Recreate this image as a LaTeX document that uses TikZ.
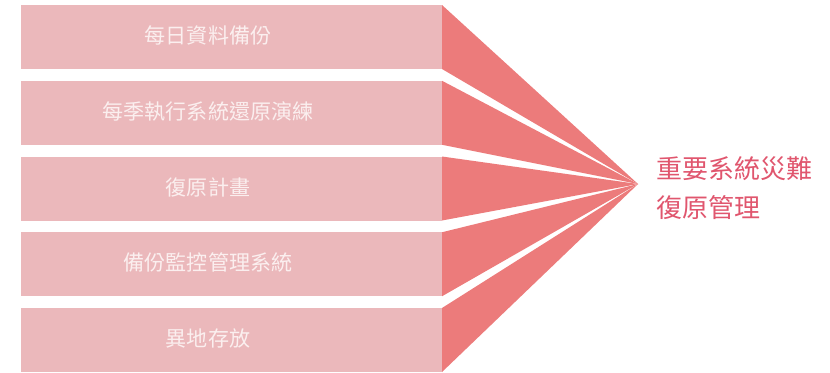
\documentclass[tikz,border=0pt]{standalone}
\usepackage{fontspec}
\newfontfamily\cjk{Noto Sans CJK TC}
\definecolor{boxpink}{HTML}{EBB8BB}
\definecolor{funnel}{HTML}{EC7B7B}
\definecolor{titlered}{HTML}{E0566E}
\definecolor{boxtext}{HTML}{FBEFEF}
\begin{document}
\begin{tikzpicture}[x=0.75pt,y=-0.75pt,
  stage/.style={fill=boxpink, draw=none, rectangle, anchor=north west,
    minimum width=421*0.75pt, minimum height=64*0.75pt, inner sep=0pt, outer sep=0pt},
  stagetext/.style={text=boxtext, font=\cjk\fontsize{15.8pt}{18pt}\selectfont, anchor=center, inner sep=0pt},
  wedge/.style={fill=funnel, draw=none},
  title/.style={text=titlered, font=\cjk\fontsize{19.5pt}{29pt}\selectfont, align=left, anchor=west, inner sep=0pt}]
\useasboundingbox (0,0) rectangle (830,372);
\coordinate (P) at (638,184);
\foreach \i/\t in {1/每日資料備份,2/每季執行系統還原演練,3/復原計畫,4/備份監控管理系統,5/異地存放}{
  \node[stage] (b\i) at (21,{5+75.75*(\i-1)}) {};
  \fill[wedge] (b\i.north east) -- (P) -- (b\i.south east) -- cycle;
  \node[stagetext] (t\i) at (208,{35.5+75.75*(\i-1)}) {\t};
}
\node[title] (goal) at (656,188) {重要系統災難\\復原管理};
\end{tikzpicture}
\end{document}
